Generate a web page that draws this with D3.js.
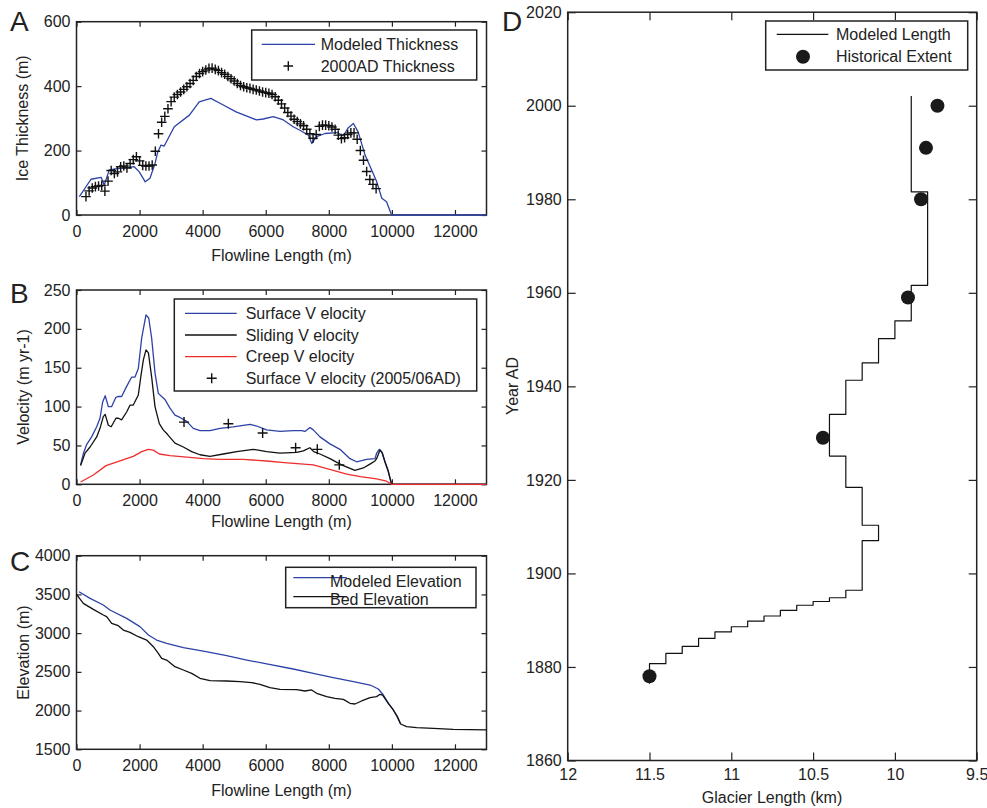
<!DOCTYPE html>
<html><head><meta charset="utf-8">
<script src="https://cdn.jsdelivr.net/npm/d3@7"></script>
<style>body{margin:0;background:#fff} text{font-family:"Liberation Sans",Arial,sans-serif;fill:#222}</style>
</head><body><svg id="c" width="987" height="808" style="background:#fff"></svg>
<script>
// ---------- DATA ----------
// Panel A: ice thickness along flowline
const thickModelX = [90,460,780,880,1040,1360,1830,1990,2180,2330,2490,2575,2680,2780,3100,3580,3890,4260,4550,5060,5710,5920,6240,6560,6870,7140,7350,7460,7610,7880,8250,8460,8620,8780,8930,9150,9520,9680,9830,9990,13000];
const thickModelY = [57,111,117,93,140,145,150,134,103,114,160,195,217,214,274,310,351,362,347,320,295,298,305,295,274,260,248,222,243,253,256,246,271,284,258,186,103,52,41,0,0];
const thickObsX = [300,400,500,600,700,800,900,1000,1100,1200,1300,1400,1500,1600,1700,1800,1900,2000,2100,2200,2300,2400,2500,2600,2700,2800,2900,3000,3100,3200,3300,3400,3500,3600,3700,3800,3900,4000,4100,4200,4300,4400,4500,4600,4700,4800,4900,5000,5100,5200,5300,5400,5500,5600,5700,5800,5900,6000,6100,6200,6300,6400,6500,6600,6700,6800,6900,7000,7100,7200,7300,7400,7500,7600,7700,7800,7900,8000,8100,8200,8300,8400,8500,8600,8700,8800,8900,9000,9100,9200,9300,9400,9500];
const thickObsY = [57,75,84,88,90,92,74,105,138,129,134,150,152,146,160,172,181,168,154,152,152,155,198,252,288,306,330,352,366,374,382,390,398,408,418,430,439,445,450,455,456,452,448,442,437,430,423,416,408,402,398,395,393,390,388,385,382,380,378,374,367,356,345,332,318,307,297,290,283,277,266,252,238,250,275,279,279,277,273,266,248,237,240,250,255,255,235,200,170,135,110,95,82];

// Panel B: velocities
const surfVX = [130,220,320,480,640,745,830,910,1010,1115,1250,1330,1430,1590,1750,1855,1960,2066,2203,2290,2383,2490,2594,2700,2806,2964,3122,3281,3493,3704,3915,4232,4549,4972,5500,5711,6028,6451,6874,7140,7243,7402,7507,7720,8037,8354,8671,8883,9200,9464,9516,9600,9675,9780,9886,9990,13000];
const surfVY = [25,40,51,61,74,85,106,114,100,100,112,113,113,126,138,138,149,188,218,214,188,143,117,113,109,98,89,86,81,72,69,69,72,74,77,75,70,68,69,69,68,73,70,61,52,45,33,29,32,33,40,45,42,29,16,0,0];
const slideVX = [130,270,430,640,745,850,910,1010,1100,1250,1330,1430,1590,1700,1800,1960,2045,2120,2203,2280,2383,2489,2626,2750,2890,3122,3387,3651,3915,4232,4655,5078,5606,6028,6451,6980,7192,7400,7520,7720,8037,8405,8828,9095,9304,9464,9516,9622,9700,9780,9886,9990,13000];
const slideVY = [24,40,48,61,72,87,90,76,74,85,85,83,93,102,102,115,140,160,173,169,138,100,78,70,64,53,48,42,38,36,39,42,45,42,40,41,43,47,42,39,33,25,18,21,26,30,33,44,40,29,17,0,0];
const creepVX = [130,534,935,1380,1800,2066,2277,2436,2626,2964,3493,4021,4549,5289,6028,6585,7508,8143,8565,9000,9516,9833,9990,13000];
const creepVY = [3,12,24,30,36,42,45,44,39,37,35,33,32,32,30,28,25,18,13,10,7,4,0,0];
const obsVX = [3409,4814,5902,6948,7635,8333];
const obsVY = [80,78,66,47,45,25];

// Panel C: elevations
const elevModelX = [80,430,850,1060,1590,2010,2280,2540,2860,3390,4020,4760,5400,6030,6870,7510,8140,8780,9310,9570,9730,9890,10045,10171,10277];
const elevModelY = [3535,3449,3363,3299,3191,3084,2976,2911,2868,2812,2769,2709,2653,2602,2537,2481,2425,2373,2330,2279,2201,2094,2008,1922,1827];
const bedX = [0,217,534,851,956,1115,1326,1485,1696,1960,2224,2436,2594,2700,2858,3122,3387,3651,3915,4232,4761,5184,5553,5817,6134,6452,6980,7244,7455,7615,7932,8196,8460,8671,8830,9041,9306,9517,9622,9706,9886,10045,10171,10277,10467,10784,11312,11946,13000];
const bedY = [3501,3385,3307,3234,3213,3126,3096,3040,3010,2954,2911,2825,2739,2675,2653,2567,2524,2481,2417,2386,2382,2373,2361,2339,2296,2275,2270,2253,2266,2223,2180,2158,2145,2094,2085,2124,2167,2180,2210,2201,2094,2008,1922,1827,1793,1780,1771,1758,1750];

// Panel D: glacier length through time (step series: length valid from the given year)
const stepYears = [1876.4,1880.7,1882.9,1884.4,1886.1,1887.5,1888.6,1889.8,1890.9,1892.1,1893.2,1894.0,1894.8,1896.4,1907.0,1910.3,1918.4,1925.1,1934.0,1941.3,1945.0,1950.2,1954.0,1961.6,1981.6,2002.1];
const stepLength = [11.5,11.4,11.3,11.2,11.1,11.0,10.9,10.8,10.7,10.6,10.5,10.4,10.3,10.2,10.1,10.2,10.3,10.4,10.3,10.2,10.1,10.0,9.9,9.8,9.9,9.9];
const histYears = [2000,1991,1980,1959,1929,1878];
const histLength = [9.74,9.81,9.84,9.92,10.44,11.5];

// tick labels
const flowTicks = [0,2000,4000,6000,8000,10000,12000];
const thickTicks = [0,200,400,600];
const velTicks = [0,50,100,150,200,250];
const elevTicks = [1500,2000,2500,3000,3500,4000];
const lenTicks = [12,11.5,11,10.5,10,9.5];
const yearTicks = [1860,1880,1900,1920,1940,1960,1980,2000,2020];

// ---------- DRAW ----------
const svg = d3.select("#c");
const BLUE = "#2d42a6", RED = "#ee2e2e", BLK = "#111";
const FS = 16;

function zip(xs, ys){ return xs.map((v,i)=>[v, ys[i]]); }

function frame(x, y, xt, yt, tick, padX, padY){
  const [x0,x1] = x.range(), [y0,y1] = y.range();
  const g = svg.append("g");
  const fmt = d => String(d);
  const ax = (gen, tr, labels, pad) => {
    const a = g.append("g").attr("transform", tr)
      .call(gen.tickSize(-tick).tickPadding(pad).tickFormat(labels ? fmt : ""));
    a.select(".domain").remove();
    a.selectAll("line").attr("stroke", "#222").attr("stroke-width", 1.2);
    a.selectAll("text").attr("font-size", FS).attr("fill", "#222")
      .style("font-family", '"Liberation Sans",Arial,sans-serif');
    return a;
  };
  ax(d3.axisBottom(x).tickValues(xt), `translate(0,${y0})`, true, padX);
  ax(d3.axisTop(x).tickValues(xt), `translate(0,${y1})`, false, 0);
  ax(d3.axisLeft(y).tickValues(yt), `translate(${x0},0)`, true, padY);
  ax(d3.axisRight(y).tickValues(yt), `translate(${x1},0)`, false, 0);
  g.append("rect").attr("x", Math.min(x0,x1)).attr("y", y1).attr("width", Math.abs(x1-x0)).attr("height", y0-y1)
    .attr("fill","none").attr("stroke","#222").attr("stroke-width",1.5);
  return g;
}

function path(x, y, data, color, w, curve){
  const ln = d3.line().x(d=>x(d[0])).y(d=>y(d[1]));
  if (curve) ln.curve(curve);
  svg.append("path").datum(data).attr("d", ln).attr("fill","none")
    .attr("stroke", color).attr("stroke-width", w).attr("stroke-linejoin","round");
}

function plus(cx, cy, s, color){
  svg.append("path").attr("d", `M${cx-s},${cy}H${cx+s}M${cx},${cy-s}V${cy+s}`)
    .attr("stroke", color).attr("stroke-width", 1.4).attr("fill","none");
}

function text(x, y, str, opts={}){
  const t = svg.append("text").attr("x", x).attr("y", y).text(str)
    .attr("font-size", opts.size || FS).attr("text-anchor", opts.anchor || "start");
  if (opts.rotate) t.attr("transform", `rotate(-90,${x},${y})`);
  if (opts.dy) t.attr("dy", opts.dy);
  return t;
}

function legendBox(x, y, w, h){
  svg.append("rect").attr("x",x).attr("y",y).attr("width",w).attr("height",h)
    .attr("fill","#fff").attr("stroke","#222").attr("stroke-width",1.5);
}

const XL = 76.5, XR = 486.5;

// ----- Panel A -----
{
  const x = d3.scaleLinear().domain([0,13000]).range([XL, XR]);
  const y = d3.scaleLinear().domain([0,600]).range([215, 21.7]);
  frame(x, y, flowTicks, thickTicks, 5, 10.5, 6);
  path(x, y, zip(thickModelX, thickModelY), BLUE, 1.3);
  zip(thickObsX, thickObsY).forEach(d => plus(x(d[0]), y(d[1]), 4.8, BLK));
  legendBox(251.7, 30, 225, 50);
  svg.append("line").attr("x1",261.7).attr("x2",315).attr("y1",44.3).attr("y2",44.3).attr("stroke",BLUE).attr("stroke-width",1.3);
  plus(288.3, 66, 4.8, BLK);
  text(320.7, 44.3, "Modeled Thickness", {dy:"0.35em"});
  text(320.7, 66, "2000AD Thickness", {dy:"0.35em"});
  text((XL+XR)/2, 260.5, "Flowline Length (m)", {anchor:"middle"});
  text(28.5, 118.3, "Ice Thickness (m)", {anchor:"middle", rotate:true});
  text(10, 30.5, "A", {size:28});
}

// ----- Panel B -----
{
  const x = d3.scaleLinear().domain([0,13000]).range([XL, XR]);
  const y = d3.scaleLinear().domain([0,250]).range([484.3, 290]);
  frame(x, y, flowTicks, velTicks, 5, 10.5, 6);
  path(x, y, zip(surfVX, surfVY), BLUE, 1.3);
  path(x, y, zip(slideVX, slideVY), BLK, 1.3);
  path(x, y, zip(creepVX, creepVY), RED, 1.3);
  zip(obsVX, obsVY).forEach(d => plus(x(d[0]), y(d[1]), 5, BLK));
  legendBox(174.3, 299, 302.4, 92);
  const rows = [[313.3,"Surface V elocity",BLUE],[335,"Sliding V elocity",BLK],[356.7,"Creep V elocity",RED]];
  rows.forEach(r => {
    svg.append("line").attr("x1",185).attr("x2",236.7).attr("y1",r[0]).attr("y2",r[0]).attr("stroke",r[2]).attr("stroke-width",1.3);
    text(245.7, r[0], r[1], {dy:"0.35em"});
  });
  plus(211.7, 378.3, 5, BLK);
  text(245.7, 378.3, "Surface V elocity (2005/06AD)", {dy:"0.35em"});
  text((XL+XR)/2, 527, "Flowline Length (m)", {anchor:"middle"});
  text(28.5, 387, "Velocity (m yr-1)", {anchor:"middle", rotate:true});
  text(10, 303, "B", {size:28});
}

// ----- Panel C -----
{
  const x = d3.scaleLinear().domain([0,13000]).range([XL, XR]);
  const y = d3.scaleLinear().domain([1500,4000]).range([749.3, 555.7]);
  frame(x, y, flowTicks, elevTicks, 5, 10.5, 6);
  path(x, y, zip(elevModelX, elevModelY), BLUE, 1.3);
  path(x, y, zip(bedX, bedY), BLK, 1.3);
  legendBox(285.7, 567.3, 190.3, 40.4);
  svg.append("line").attr("x1",293.3).attr("x2",346.7).attr("y1",577.7).attr("y2",577.7).attr("stroke",BLUE).attr("stroke-width",1.3);
  svg.append("line").attr("x1",293.3).attr("x2",346.7).attr("y1",596.7).attr("y2",596.7).attr("stroke",BLK).attr("stroke-width",1.3);
  text(330, 581, "Modeled Elevation", {dy:"0.35em"});
  text(330, 599, "Bed Elevation", {dy:"0.35em"});
  text((XL+XR)/2, 796, "Flowline Length (m)", {anchor:"middle"});
  text(28.5, 652.5, "Elevation (m)", {anchor:"middle", rotate:true});
  text(10, 571, "C", {size:28});
}

// ----- Panel D -----
{
  const x = d3.scaleLinear().domain([12,9.5]).range([567.7, 976.7]);
  const y = d3.scaleLinear().domain([1860,2020]).range([760.5, 12.2]);
  frame(x, y, lenTicks, yearTicks, 8, 8, 6);
  path(x, y, zip(stepLength, stepYears), BLK, 1.2, d3.curveStepBefore);
  zip(histLength, histYears).forEach(d => svg.append("circle").attr("cx", x(d[0])).attr("cy", y(d[1])).attr("r", 7).attr("fill", "#1a1a1a"));
  legendBox(765.7, 21, 202, 49);
  svg.append("line").attr("x1",776.7).attr("x2",828.3).attr("y1",34.3).attr("y2",34.3).attr("stroke",BLK).attr("stroke-width",1.2);
  svg.append("circle").attr("cx",803).attr("cy",56.7).attr("r",7).attr("fill","#1a1a1a");
  text(836, 34.3, "Modeled Length", {dy:"0.35em"});
  text(836, 56.7, "Historical Extent", {dy:"0.35em"});
  text(772, 802.5, "Glacier Length (km)", {anchor:"middle"});
  text(517.5, 386, "Year AD", {anchor:"middle", rotate:true});
  text(502, 30.5, "D", {size:28});
}
</script></body></html>
